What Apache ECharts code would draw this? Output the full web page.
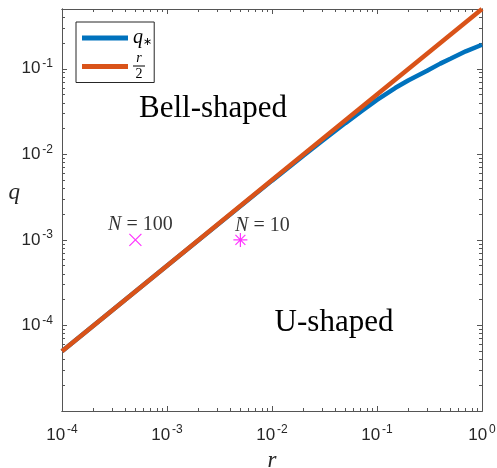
<!DOCTYPE html>
<html><head><meta charset="utf-8">
<script src="https://cdn.jsdelivr.net/npm/echarts@6/dist/echarts.min.js"></script>
<style>html,body{margin:0;padding:0;background:#fff}#c{width:497px;height:468px}</style>
</head><body><div id="c"></div>
<script>
// ---- data ----
const rQStar = [1e-4, 1e-3, 0.01, 0.02, 0.03, 0.05, 0.07, 0.1, 0.15, 0.2, 0.3, 0.4, 0.5, 0.7, 1];
const qStar  = [5e-5, 5e-4, 0.00493, 0.0097, 0.0143, 0.0232, 0.0316, 0.0433, 0.060, 0.0735, 0.095, 0.115, 0.131, 0.160, 0.191];
const rHalfX = [1e-4, 1e-3, 1e-2, 1e-1, 1];
const rHalfY = [5e-5, 5e-4, 5e-3, 5e-2, 0.5];
const pointN100 = [5e-4, 1e-3];
const pointN10 = [5e-3, 1e-3];
const xTickValues = [1e-4, 1e-3, 1e-2, 1e-1, 1];
const yTickValues = [1e-4, 1e-3, 1e-2, 1e-1];
const xLim = [1e-4, 1];
const yLim = [1e-5, 0.5];

// ---- helpers ----
function minorTicks(lo, hi) {
  const out = [];
  for (let e = Math.floor(Math.log10(lo)); e <= Math.ceil(Math.log10(hi)); e++) {
    for (let m = 2; m <= 9; m++) {
      const v = m * Math.pow(10, e);
      if (v > lo * 1.0001 && v < hi * 0.9999) out.push(v);
    }
  }
  return out;
}
function majorTicks(lo, hi) {
  const out = [];
  for (let e = Math.ceil(Math.log10(lo) - 1e-9); e <= Math.floor(Math.log10(hi) + 1e-9); e++) out.push(Math.pow(10, e));
  return out;
}
const labelRich = {
  b: { fontFamily: 'Liberation Sans', fontSize: 17, color: '#262626' },
  s: { fontFamily: 'Liberation Sans', fontSize: 12, color: '#262626', padding: [0, 0, 10, 2] }
};
function fmt(v) { return '{b|10}{s|' + Math.round(Math.log10(v)) + '}'; }
const axisColor = '#555';
function mkAxis(pos, lim, major, ticks, len, margin, extra) {
  return Object.assign({
    type: 'log', logBase: 10, min: lim[0], max: lim[1], position: pos, gridIndex: 0,
    axisLine: { show: true, onZero: false, lineStyle: { color: axisColor, width: 1 } },
    axisTick: { show: true, inside: false, length: -len, customValues: ticks, lineStyle: { color: axisColor, width: 1 } },
    minorTick: { show: false },
    splitLine: { show: false },
    axisLabel: major ? { show: true, customValues: major, formatter: fmt, rich: labelRich, margin: margin } : { show: false }
  }, extra || {});
}
const xMajor = majorTicks(xLim[0], xLim[1]);
const yMajor = majorTicks(yLim[0], yLim[1]);
const xMinor = minorTicks(xLim[0], xLim[1]);
const yMinor = minorTicks(yLim[0], yLim[1]);

const serif = 'Liberation Serif';
const option = {
  animation: false,
  backgroundColor: '#fff',
  grid: { left: 62, right: 15, top: 9, bottom: 57, containLabel: false, outerBoundsMode: 'none' },
  xAxis: [
    mkAxis('bottom', xLim, xTickValues, xMajor, 5, 13, {
      name: 'r', nameLocation: 'middle', nameGap: 38, nameMoveOverlap: false,
      nameTextStyle: { fontFamily: serif, fontStyle: 'italic', fontSize: 23, color: '#262626' } }),
    mkAxis('bottom', xLim, null, xMinor, 3),
    mkAxis('top', xLim, null, xMajor, 5),
    mkAxis('top', xLim, null, xMinor, 3)
  ],
  yAxis: [
    mkAxis('left', yLim, yTickValues, yMajor, 5, 9, {
      name: 'q', nameLocation: 'middle', nameGap: 42, nameRotate: 0, nameMoveOverlap: false,
      nameTextStyle: { fontFamily: serif, fontStyle: 'italic', fontSize: 23, color: '#262626', verticalAlign: 'bottom', lineHeight: 34 } }),
    mkAxis('left', yLim, null, yMinor, 3),
    mkAxis('right', yLim, null, yMajor, 5),
    mkAxis('right', yLim, null, yMinor, 3)
  ],
  legend: {
    orient: 'vertical', left: 76, top: 22, itemWidth: 46, itemHeight: 5, icon: 'rect', itemGap: 3,
    padding: [6, 2, 1, 6], borderColor: '#262626', borderWidth: 1, backgroundColor: '#fff',
    data: ['qstar', 'rhalf'],
    formatter: function (name) { return name === 'qstar' ? '{q|q}{sub|∗}' : '{n|r}\n{bar|}\n{d|2}'; },
    textStyle: {
      rich: {
        q: { fontFamily: serif, fontStyle: 'italic', fontSize: 20, color: '#000' },
        sub: { fontFamily: 'DejaVu Sans', fontSize: 11, color: '#000', padding: [8, 0, 0, 0] },
        n: { fontFamily: serif, fontStyle: 'italic', fontSize: 14, color: '#000', width: 12, align: 'center', lineHeight: 13 },
        bar: { width: 12, height: 1, backgroundColor: '#000', lineHeight: 3 },
        d: { fontFamily: serif, fontSize: 14, color: '#000', width: 12, align: 'center', lineHeight: 14 }
      }
    }
  },
  series: [
    {
      name: 'qstar', type: 'line', xAxisIndex: 0, yAxisIndex: 0, showSymbol: false, symbol: 'none',
      data: rQStar.map((r, i) => [r, qStar[i]]),
      lineStyle: { color: '#0072BD', width: 4.5 }, itemStyle: { color: '#0072BD' }, z: 3
    },
    {
      name: 'rhalf', type: 'line', xAxisIndex: 0, yAxisIndex: 0, showSymbol: false, symbol: 'none',
      data: rHalfX.map((r, i) => [r, rHalfY[i]]),
      lineStyle: { color: '#D95319', width: 4.5 }, itemStyle: { color: '#D95319' }, z: 4
    },
    {
      name: 'N100', type: 'scatter', xAxisIndex: 0, yAxisIndex: 0,
      data: [pointN100],
      symbol: 'path://M0,0L10,10M10,0L0,10', symbolSize: 12,
      itemStyle: { color: 'none', borderColor: '#FF00FF', borderWidth: 1.2 },
      label: { show: true, position: 'top', distance: 4, offset: [5, 7], formatter: '{i|N} = 100',
        rich: { i: { fontFamily: serif, fontStyle: 'italic', fontSize: 20, color: '#000' } },
        fontFamily: serif, fontSize: 20, color: '#000' },
      z: 5
    },
    {
      name: 'N10', type: 'scatter', xAxisIndex: 0, yAxisIndex: 0,
      data: [pointN10],
      symbol: 'path://M5,0L5,10M0,5L10,5M1.46,1.46L8.54,8.54M8.54,1.46L1.46,8.54', symbolSize: 14,
      itemStyle: { color: 'none', borderColor: '#FF00FF', borderWidth: 1.2 },
      label: { show: true, position: 'top', distance: 3, offset: [22, 8], formatter: '{i|N} = 10',
        rich: { i: { fontFamily: serif, fontStyle: 'italic', fontSize: 20, color: '#000' } },
        fontFamily: serif, fontSize: 20, color: '#000' },
      z: 5
    }
  ],
  graphic: [
    { type: 'text', x: 213, y: 109, style: { text: 'Bell-shaped', fontFamily: serif, fontSize: 31, fill: '#000', textAlign: 'center', textVerticalAlign: 'middle' }, z: 10 },
    { type: 'text', x: 334, y: 323, style: { text: 'U-shaped', fontFamily: serif, fontSize: 31, fill: '#000', textAlign: 'center', textVerticalAlign: 'middle' }, z: 10 }
  ]
};
const chart = echarts.init(document.getElementById('c'), null, { renderer: 'canvas' });
chart.setOption(option);
</script>
</body></html>
